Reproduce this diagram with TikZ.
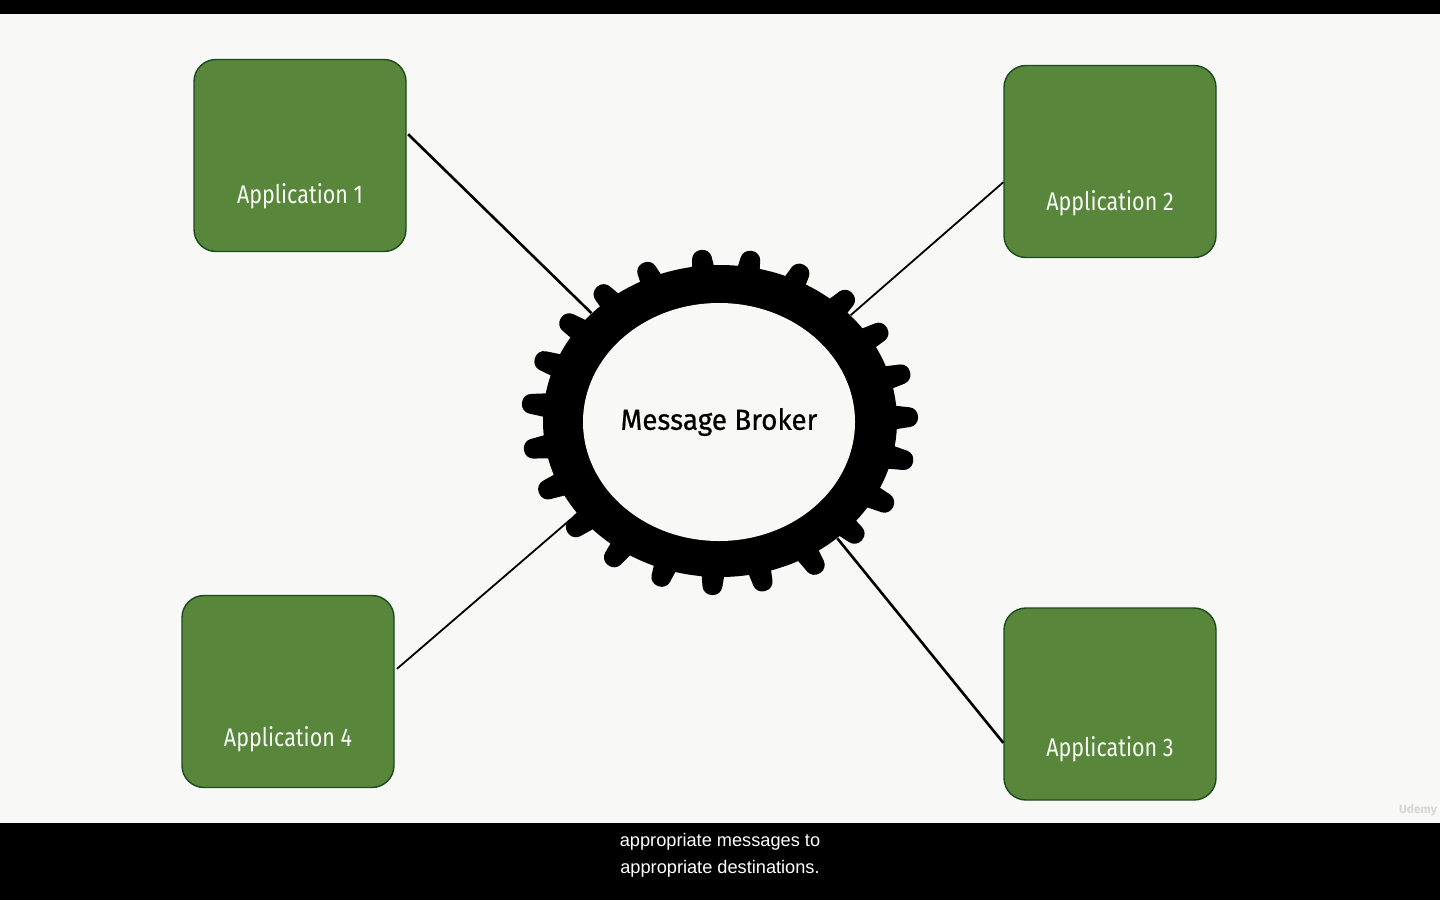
\documentclass[tikz,border=0pt]{standalone}
\usepackage{fontspec}
\setsansfont{Fira Sans}
\newfontfamily\subsfont{Liberation Sans}
\newfontfamily\appfont[FakeStretch=0.84]{Fira Sans}
\newfontfamily\brokerfont[FakeStretch=0.96,FakeBold=0.6]{Fira Sans}
\usetikzlibrary{shapes.geometric, positioning, calc}
\definecolor{paper}{HTML}{F8F8F6}
\definecolor{appgreen}{HTML}{58873C}
\definecolor{appedge}{HTML}{1A4A1E}

\begin{document}
\begin{tikzpicture}[
    x=0.5pt, y=-0.5pt,
    font=\sffamily,
    appbox/.style={draw=appedge, line width=0.7pt, fill=appgreen, rounded corners=11pt, minimum width=106pt, minimum height=96pt, inner sep=0pt},
    applabel/.style={text=white!95!appgreen, font=\appfont\fontsize{12.8}{15}\selectfont, inner sep=0pt},
    link/.style={line width=1.3pt, black},
    linkthin/.style={line width=0.9pt, black},
    gearbody/.style={ellipse, fill=black, minimum width=177pt, minimum height=156pt, inner sep=0pt},
    gearhole/.style={ellipse, fill=paper, minimum width=136pt, minimum height=119pt, inner xsep=-6pt, inner ysep=0pt, font=\brokerfont\fontsize{14.5}{17}\selectfont},
    tooth/.style={fill=black, rounded corners=4pt}
]

    % Page
    \fill[paper] (0,0) rectangle (1440,900);
    \useasboundingbox (0,0) rectangle (1440,900);
    \fill[black] (0,0) rectangle (1440,14);
    \fill[black] (0,823) rectangle (1440,900);

    % Gear
    \node[gearbody] (gear) at (720,421) {};
    \foreach \tx/\ty in {701/250, 752/251, 804/265, 852/293, 887/328, 910/372, 918/417, 913/462,
                         893/507, 862/540, 820/573, 765/591, 712/595, 658/586, 608/565, 568/533,
                         539/493, 524/450, 522/403, 535/358, 561/318, 597/287, 643/263} {
        \coordinate (tip) at (\tx,\ty);
        \coordinate (root) at ($(tip)!24pt!(gear.center)$);
        \fill[tooth] ($(root)!7.5pt!90:(gear.center)$) -- ($(tip)!4.4pt!90:(gear.center)$)
            -- ($(tip)!4.4pt!-90:(gear.center)$) -- ($(root)!7.5pt!-90:(gear.center)$) -- cycle;
    }
    \node[gearhole] (broker) at (719,422) {Message Broker};

    % Applications
    \node[appbox] (app1) at (300,155.5) {};
    \node[appbox] (app2) at (1110,161.5) {};
    \node[appbox] (app3) at (1110,704) {};
    \node[appbox] (app4) at (288,691.5) {};
    \node[applabel] (label1) at ($(app1.center)+(0,41)$) {Application 1};
    \node[applabel] (label2) at ($(app2.center)+(0,42)$) {Application 2};
    \node[applabel] (label3) at ($(app3.center)+(0,45)$) {Application 3};
    \node[applabel] (label4) at ($(app4.center)+(0,48)$) {Application 4};

    % Connections
    \draw[link, shorten <=1pt] (app1.12) -- (gear.140.3);
    \draw[linkthin] (app2.191) -- (gear.39.5);
    \draw[link] (app3.200.3) -- (gear.-45.5);
    \draw[linkthin, shorten <=1.5pt, shorten >=4pt] (app4.11.8) -- (gear.213.2);

    % Watermark and subtitle
    \node[text=black!16, font=\sffamily\bfseries\fontsize{6}{7}\selectfont, inner sep=0pt] (mark) at (1418,810) {Udemy};
    \node[text=white, font=\subsfont\fontsize{9.1}{13.5}\selectfont, align=center, inner sep=0pt] (subs) at (720,855) {appropriate messages to\\appropriate destinations.};

\end{tikzpicture}
\end{document}
